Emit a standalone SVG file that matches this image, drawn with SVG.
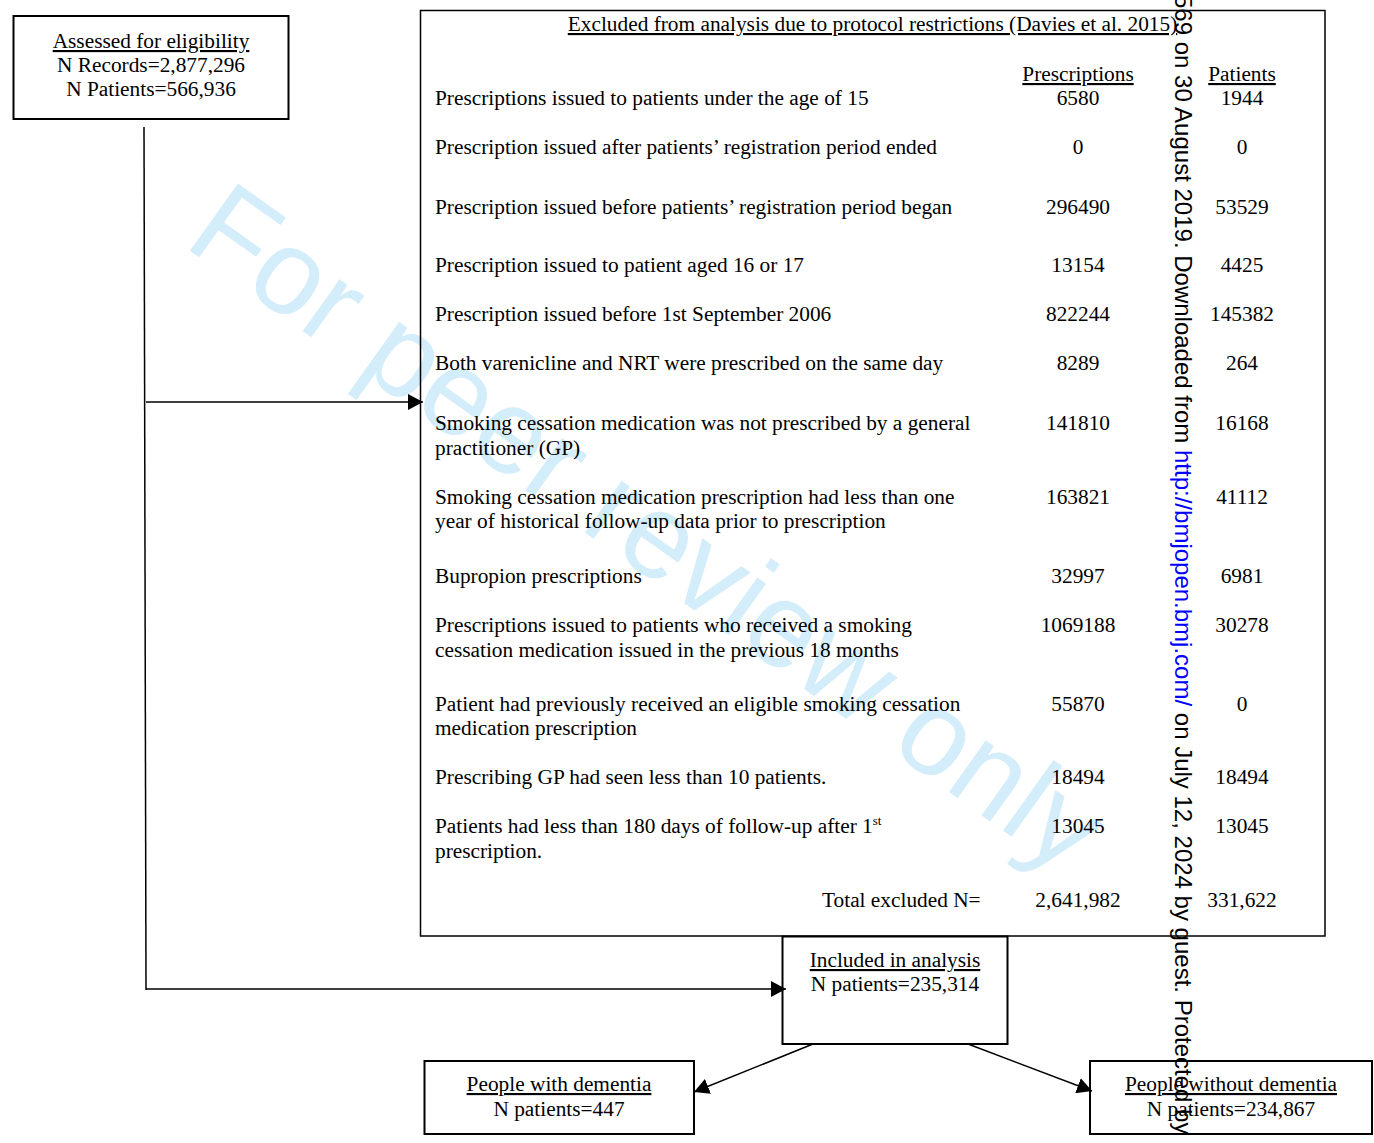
<svg xmlns="http://www.w3.org/2000/svg" width="1374" height="1143" viewBox="0 0 1374 1143">
<style>
.t{font-family:"Liberation Serif","Times New Roman",serif;font-size:21.33px;fill:#000}
.c{text-anchor:middle}
.u{text-decoration:underline}
.box{fill:none;stroke:#000;stroke-width:2}
.conn{fill:none;stroke:#000;stroke-width:1.5}
.wm{font-family:"Liberation Sans",Arial,sans-serif;font-size:120px;fill:#d3edfa}
.side{font-family:"Liberation Sans",Arial,sans-serif;font-size:24px;fill:#000}
</style>
<defs>
<marker id="ah" markerUnits="userSpaceOnUse" markerWidth="16" markerHeight="16" refX="15" refY="8" orient="auto" viewBox="0 0 16 16">
<path d="M0,0 L15,8 L0,16 Z" fill="#000"/>
</marker>
</defs>
<rect width="1374" height="1143" fill="#fff"/>
<text class="wm" transform="translate(182,245) rotate(35.5)">For peer review only</text>

<g id="connectors">
<line class="conn" x1="144" y1="127" x2="146" y2="990"/>
<line class="conn" x1="146" y1="402" x2="423" y2="402" marker-end="url(#ah)"/>
<line class="conn" x1="146" y1="989" x2="786" y2="989" marker-end="url(#ah)"/>
<line class="conn" x1="813" y1="1044" x2="694" y2="1092" marker-end="url(#ah)"/>
<line class="conn" x1="968" y1="1044" x2="1092" y2="1091" marker-end="url(#ah)"/>
</g>

<g id="assessed">
<rect class="box" x="13.5" y="16" width="275" height="103"/>
<text class="t c u" x="151" y="48">Assessed for eligibility</text>
<text class="t c" x="151" y="72">N Records=2,877,296</text>
<text class="t c" x="151" y="96">N Patients=566,936</text>
</g>

<g id="excluded">
<rect x="420.5" y="10.5" width="904.5" height="925.5" fill="none" stroke="#000" stroke-width="1.5"/>
<text class="t c u" x="872.5" y="31">Excluded from analysis due to protocol restrictions (Davies et al. 2015)</text>
<text class="t c u" x="1078" y="81">Prescriptions</text>
<text class="t c u" x="1242" y="81">Patients</text>

<text class="t" x="435" y="105">Prescriptions issued to patients under the age of 15</text>
<text class="t c" x="1078" y="105">6580</text><text class="t c" x="1242" y="105">1944</text>

<text class="t" x="435" y="154">Prescription issued after patients’ registration period ended</text>
<text class="t c" x="1078" y="154">0</text><text class="t c" x="1242" y="154">0</text>

<text class="t" x="435" y="214">Prescription issued before patients’ registration period began</text>
<text class="t c" x="1078" y="214">296490</text><text class="t c" x="1242" y="214">53529</text>

<text class="t" x="435" y="272">Prescription issued to patient aged 16 or 17</text>
<text class="t c" x="1078" y="272">13154</text><text class="t c" x="1242" y="272">4425</text>

<text class="t" x="435" y="321">Prescription issued before 1st September 2006</text>
<text class="t c" x="1078" y="321">822244</text><text class="t c" x="1242" y="321">145382</text>

<text class="t" x="435" y="370">Both varenicline and NRT were prescribed on the same day</text>
<text class="t c" x="1078" y="370">8289</text><text class="t c" x="1242" y="370">264</text>

<text class="t" x="435" y="430">Smoking cessation medication was not prescribed by a general</text>
<text class="t" x="435" y="455">practitioner (GP)</text>
<text class="t c" x="1078" y="430">141810</text><text class="t c" x="1242" y="430">16168</text>

<text class="t" x="435" y="504">Smoking cessation medication prescription had less than one</text>
<text class="t" x="435" y="528">year of historical follow-up data prior to prescription</text>
<text class="t c" x="1078" y="504">163821</text><text class="t c" x="1242" y="504">41112</text>

<text class="t" x="435" y="583">Bupropion prescriptions</text>
<text class="t c" x="1078" y="583">32997</text><text class="t c" x="1242" y="583">6981</text>

<text class="t" x="435" y="632">Prescriptions issued to patients who received a smoking</text>
<text class="t" x="435" y="657">cessation medication issued in the previous 18 months</text>
<text class="t c" x="1078" y="632">1069188</text><text class="t c" x="1242" y="632">30278</text>

<text class="t" x="435" y="711">Patient had previously received an eligible smoking cessation</text>
<text class="t" x="435" y="735">medication prescription</text>
<text class="t c" x="1078" y="711">55870</text><text class="t c" x="1242" y="711">0</text>

<text class="t" x="435" y="784">Prescribing GP had seen less than 10 patients.</text>
<text class="t c" x="1078" y="784">18494</text><text class="t c" x="1242" y="784">18494</text>

<text class="t" x="435" y="833">Patients had less than 180 days of follow-up after 1<tspan dy="-8" font-size="13px">st</tspan></text>
<text class="t" x="435" y="858">prescription.</text>
<text class="t c" x="1078" y="833">13045</text><text class="t c" x="1242" y="833">13045</text>

<text class="t" x="822" y="907">Total excluded N=</text>
<text class="t c" x="1078" y="907">2,641,982</text><text class="t c" x="1242" y="907">331,622</text>
</g>

<g id="included">
<rect class="box" x="782.5" y="936.5" width="225" height="107.5" fill="#fff"/>
<text class="t c u" x="895" y="967">Included in analysis</text>
<text class="t c" x="895" y="991">N patients=235,314</text>
</g>

<g id="with-dementia">
<rect class="box" x="424.5" y="1061" width="269.5" height="73"/>
<text class="t c u" x="559" y="1091">People with dementia</text>
<text class="t c" x="559" y="1116">N patients=447</text>
</g>

<g id="without-dementia">
<rect class="box" x="1090" y="1061" width="282" height="73"/>
<text class="t c u" x="1231" y="1091">People without dementia</text>
<text class="t c" x="1231" y="1116">N patients=234,867</text>
</g>

<text class="side" transform="translate(1175,-5) rotate(90)">569 on 30 August 2019. Downloaded from <tspan fill="#0000ff">http://bmjopen.bmj.com/</tspan> on July 12, 2024 by guest. Protected by</text>
</svg>
